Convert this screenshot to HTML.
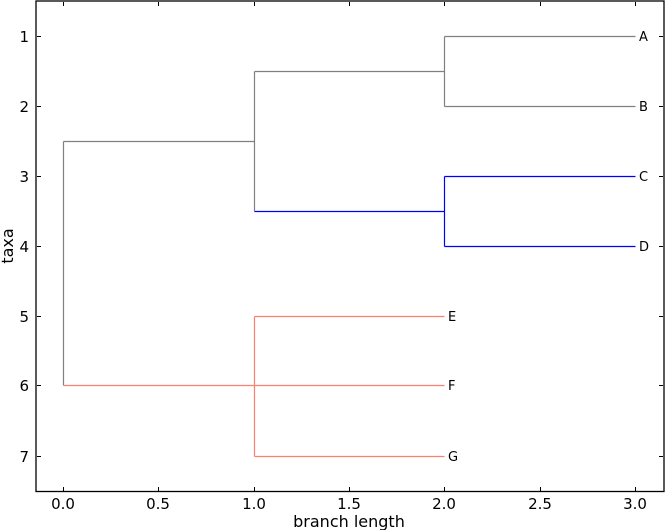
<!DOCTYPE html>
<html><head><style>body{margin:0;background:#fff}svg{display:block}</style></head>
<body>
<svg width="666" height="530" xmlns="http://www.w3.org/2000/svg" font-family="'DejaVu Sans','Liberation Sans',sans-serif">
<rect width="666" height="530" fill="#fff"/>
<g stroke-width="1.2" fill="none">
<path d="M63.5 141.5V385.5M63.5 141.5H254.5M254.5 71.5V211.5M254.5 71.5H444.5M444.5 36.5V106.5M444.5 36.5H635.5M444.5 106.5H635.5" stroke="#808080"/>
<path d="M254.5 211.5H444.5M444.5 176.5V246.5M444.5 176.5H635.5M444.5 246.5H635.5" stroke="#0000ff"/>
<path d="M63.5 385.5H444.5M254.5 316.5V456.5M254.5 316.5H444.5M254.5 456.5H444.5" stroke="#fa8072"/>
</g>
<g font-size="13" fill="#000">
<text x="639" y="41">A</text><text x="639" y="111">B</text><text x="639" y="181">C</text><text x="639" y="251">D</text>
<text x="448" y="321">E</text><text x="448" y="390">F</text><text x="448" y="461">G</text>
</g>
<rect x="36" y="1" width="628" height="490.5" fill="none" stroke="#000" stroke-width="1.3"/>
<g stroke="#000" stroke-width="1">
<path d="M63.5 491V487M158.5 491V487M254.5 491V487M349.5 491V487M444.5 491V487M540.5 491V487M635.5 491V487"/>
<path d="M63.5 2V6M158.5 2V6M254.5 2V6M349.5 2V6M444.5 2V6M540.5 2V6M635.5 2V6"/>
<path d="M37 36.5H41M37 106.5H41M37 176.5H41M37 246.5H41M37 316.5H41M37 385.5H41M37 456.5H41"/>
<path d="M663 36.5H659M663 106.5H659M663 176.5H659M663 246.5H659M663 316.5H659M663 385.5H659M663 456.5H659"/>
</g>
<g font-size="15" text-anchor="middle">
<text x="63" y="509">0.0</text><text x="158" y="509">0.5</text><text x="254" y="509">1.0</text><text x="349" y="509">1.5</text><text x="444" y="509">2.0</text><text x="540" y="509">2.5</text><text x="635" y="509">3.0</text>
<text x="349" y="527" font-size="16">branch length</text>
</g>
<g font-size="15" text-anchor="end">
<text x="29" y="42">1</text><text x="29" y="112">2</text><text x="29" y="182">3</text><text x="29" y="252">4</text><text x="29" y="322">5</text><text x="29" y="391">6</text><text x="29" y="462">7</text>
</g>
<text x="13" y="246" font-size="16" text-anchor="middle" transform="rotate(-90 13 246)">taxa</text>
</svg>
</body></html>
